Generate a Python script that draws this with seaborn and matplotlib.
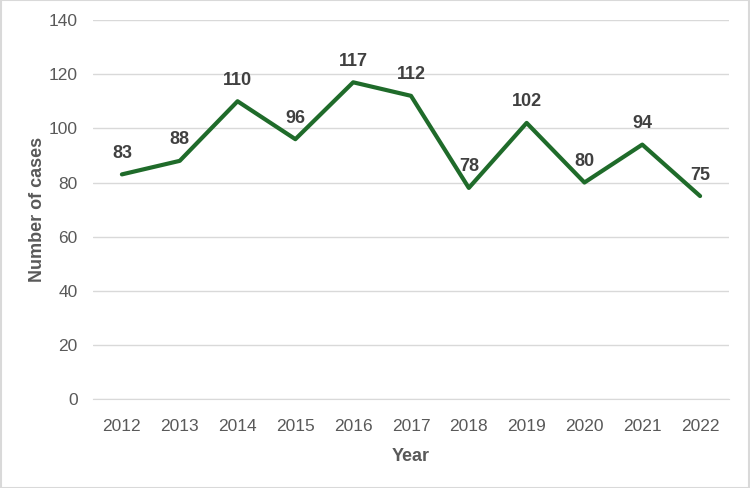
import matplotlib
matplotlib.use("Agg")
import matplotlib.pyplot as plt
import seaborn as sns
import pandas as pd

years = ["2012", "2013", "2014", "2015", "2016", "2017", "2018", "2019", "2020", "2021", "2022"]
cases = [83, 88, 110, 96, 117, 112, 78, 102, 80, 94, 75]

df = pd.DataFrame({"Year": years, "Cases": cases})

sns.set_style("white")
plt.rcParams["font.family"] = ["Liberation Sans", "DejaVu Sans"]

fig = plt.figure(figsize=(7.5, 4.88), dpi=100)
ax = fig.add_axes([0.124, 0.182, 0.848, 0.777])

sns.lineplot(data=df, x="Year", y="Cases", color="#1f6b2a", linewidth=3, ax=ax, sort=False)

for i, v in enumerate(cases):
    ax.annotate(str(v), (i, v), xytext=(0, 9), textcoords="offset points",
                ha="center", va="bottom", fontsize=13, fontweight="bold", color="#404040")

ax.set_xlim(-0.5, len(years) - 0.5)
ax.set_ylim(0, 140)
ax.set_yticks(range(0, 141, 20))
ax.yaxis.grid(True, color="#d9d9d9", linewidth=1)
ax.set_axisbelow(True)
for s in ["top", "right", "left"]:
    ax.spines[s].set_visible(False)
ax.spines["bottom"].set_color("#d9d9d9")
ax.tick_params(axis="both", length=0, labelsize=12.5, labelcolor="#595959")
ax.tick_params(axis="x", pad=14)
ax.tick_params(axis="y", pad=11)
ax.set_xlabel("Year", fontsize=13, fontweight="bold", color="#595959", labelpad=10)
ax.set_ylabel("Number of cases", fontsize=13, fontweight="bold", color="#595959", labelpad=2)

fig.patches.append(plt.Rectangle((0.001, 0.001), 0.998, 0.998, transform=fig.transFigure,
                                 fill=False, edgecolor="#d9d9d9", linewidth=1.5))

fig.savefig("out.png", dpi=100)
